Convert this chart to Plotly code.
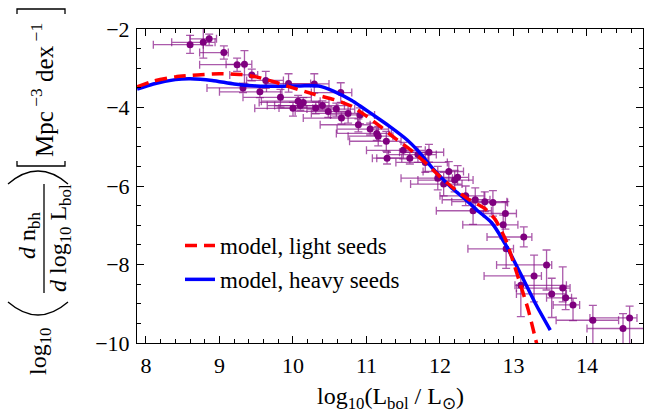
import plotly.graph_objects as go

# ---------------- data ----------------
# observed bolometric luminosity function (log10 L/Lsun, log10 phi)
lum_x = [8.60, 8.78, 8.86, 9.06, 9.24, 9.34, 9.44, 9.32, 9.63, 9.94,
         10.29, 9.83, 10.07, 10.14, 10.00, 10.10, 10.31, 10.48, 10.59, 10.66,
         10.65, 10.89, 10.91, 11.14, 11.16, 11.27, 11.28, 11.50, 11.59, 11.85,
         11.80, 11.97, 12.12, 12.20, 12.24, 12.48, 12.45, 12.61, 12.72, 12.89,
         12.86, 13.14, 12.90, 13.45, 13.28, 13.10, 13.67, 13.52, 13.71, 13.81,
         14.08, 14.58, 14.49, 9.55, 10.40, 10.75, 11.05, 11.70, 12.05, 12.35]
phi_y = [-2.40, -2.34, -2.25, -2.60, -2.91, -2.90, -3.17, -3.50, -3.31, -3.39,
         -3.40, -3.74, -3.84, -3.87, -4.02, -3.95, -4.01, -4.10, -4.04, -4.27,
         -3.62, -4.44, -4.19, -4.66, -4.73, -4.86, -5.29, -5.09, -5.29, -5.14,
         -5.40, -5.80, -5.63, -5.85, -5.78, -6.35, -6.63, -6.40, -6.42, -6.70,
         -6.99, -7.30, -7.60, -8.01, -8.29, -8.53, -8.60, -8.75, -8.85, -9.03,
         -9.42, -9.36, -9.63, -3.60, -3.95, -4.15, -4.55, -5.20, -5.95, -6.25]
lum_err_lo = [0.50, 0.43, 0.26, 0.33, 0.51, 0.25, 0.30, 0.49, 0.26, 0.32,
              0.35, 0.51, 0.50, 0.60, 0.52, 0.45, 0.50, 0.45, 0.40, 0.52,
              0.40, 0.52, 0.40, 0.55, 0.41, 0.50, 0.20, 0.50, 0.45, 0.40,
              0.40, 0.50, 0.35, 0.50, 0.30, 0.45, 0.50, 0.45, 0.30, 0.30,
              0.55, 0.50, 0.52, 0.68, 0.68, 0.08, 0.63, 0.48, 0.26, 0.27,
              0.50, 0.54, 0.49, 0.55, 0.65, 0.50, 0.45, 0.40, 0.45, 0.35]
lum_err_hi = [0.18, 0.16, 0.10, 0.06, 0.10, 0.10, 0.08, 0.32, 0.24, 0.30,
              0.20, 0.42, 0.30, 0.35, 0.27, 0.25, 0.30, 0.30, 0.25, 0.22,
              0.15, 0.16, 0.20, 0.20, 0.20, 0.20, 0.20, 0.30, 0.25, 0.20,
              0.30, 0.20, 0.20, 0.25, 0.15, 0.20, 0.25, 0.30, 0.20, 0.15,
              0.20, 0.11, 0.10, 0.07, 0.10, 0.62, 0.10, 0.20, 0.08, 0.09,
              0.35, 0.10, 0.30, 0.30, 0.30, 0.20, 0.25, 0.25, 0.25, 0.25]
phi_err_up = [0.24, 0.36, 0.12, 0.17, 0.17, 0.35, 0.15, 0.12, 0.23, 0.25,
              0.26, 0.20, 0.15, 0.12, 0.15, 0.10, 0.15, 0.12, 0.15, 0.15,
              0.25, 0.15, 0.18, 0.15, 0.25, 0.25, 0.15, 0.20, 0.15, 0.20,
              0.25, 0.30, 0.25, 0.25, 0.30, 0.30, 0.20, 0.25, 0.30, 0.30,
              0.25, 0.26, 0.23, 0.38, 0.53, 0.21, 0.54, 0.40, 0.30, 0.17,
              0.38, 0.30, 0.38, 0.15, 0.12, 0.20, 0.15, 0.20, 0.30, 0.25]
phi_err_dn = [0.22, 0.40, 0.17, 0.17, 0.17, 0.50, 0.15, 0.12, 0.20, 0.22,
              0.23, 0.25, 0.15, 0.12, 0.20, 0.12, 0.15, 0.15, 0.20, 0.15,
              0.25, 0.18, 0.22, 0.18, 0.25, 0.25, 0.15, 0.22, 0.15, 0.25,
              0.25, 0.30, 0.25, 0.30, 0.20, 0.30, 0.35, 0.25, 0.35, 0.40,
              0.35, 0.25, 0.50, 0.64, 0.66, 0.80, 0.35, 0.60, 0.30, 0.40,
              0.65, 1.20, 0.80, 0.15, 0.12, 0.25, 0.15, 0.20, 0.30, 0.25]

# model curves
light_x = [7.88, 8.1, 8.4, 8.7, 9.0, 9.3, 9.5, 9.75, 10.0, 10.3, 10.6, 10.8,
           11.0, 11.2, 11.4, 11.6, 11.8, 12.0, 12.2, 12.4, 12.6, 12.75, 12.9,
           13.05, 13.2, 13.3, 13.34]
light_y = [-3.47, -3.33, -3.22, -3.17, -3.14, -3.16, -3.22, -3.35, -3.50, -3.67,
           -3.82, -3.97, -4.22, -4.50, -4.80, -5.08, -5.40, -5.76, -6.08, -6.35,
           -6.56, -6.85, -7.40, -8.25, -9.15, -9.90, -10.2]
heavy_x = [7.88, 8.1, 8.4, 8.6, 8.9, 9.2, 9.5, 9.8, 10.1, 10.35, 10.55, 10.8,
           11.1, 11.3, 11.55, 11.7, 11.9, 12.15, 12.35, 12.5, 12.7, 12.9, 13.1,
           13.3, 13.5]
heavy_y = [-3.53, -3.40, -3.29, -3.27, -3.31, -3.40, -3.45, -3.46, -3.45, -3.45,
           -3.58, -3.82, -4.20, -4.46, -4.82, -5.10, -5.55, -6.03, -6.35, -6.61,
           -6.93, -7.52, -8.25, -9.00, -9.67]

x_ticks = [8, 9, 10, 11, 12, 13, 14]
y_ticks = [-10, -8, -6, -4, -2]

# ---------------- layout helpers ----------------
W, H = 647, 416
L, R, T, B = 137, 643, 29, 343
PW, PH = R - L, B - T


def px(x):
    return (x - L) / PW


def py(y):
    return (B - y) / PH


FONT = "Liberation Serif"
purple = "#7f007f"

fig = go.Figure()

fig.add_trace(go.Scatter(
    x=lum_x, y=phi_y, mode="markers", showlegend=False,
    marker=dict(color=purple, size=7),
    error_x=dict(type="data", symmetric=False, array=lum_err_hi,
                 arrayminus=lum_err_lo, color="rgba(135,20,135,0.7)",
                 thickness=1.3, width=4),
    error_y=dict(type="data", symmetric=False, array=phi_err_up,
                 arrayminus=phi_err_dn, color="rgba(135,20,135,0.7)",
                 thickness=1.3, width=4),
))

fig.add_trace(go.Scatter(
    x=heavy_x, y=heavy_y, mode="lines", name="model, heavy seeds",
    line=dict(color="#0000ff", width=3.5, shape="spline", smoothing=0.6),
    legendgroup="b", legendrank=2,
))
fig.add_trace(go.Scatter(
    x=light_x, y=light_y, mode="lines", name="model, light seeds",
    line=dict(color="#ff0000", width=3.5, dash="12px,7px", shape="spline",
              smoothing=0.6),
    legendgroup="a", legendrank=1,
))

axis_common = dict(
    showgrid=False, zeroline=False, showline=True, linecolor="black",
    linewidth=1, mirror="allticks", ticks="inside", ticklen=7, tickwidth=1,
    tickcolor="black", tickfont=dict(family=FONT, size=22, color="black"),
)

fig.update_xaxes(range=[7.878, 14.762], tickvals=x_ticks,
                 ticklabelstandoff=3,
                 minor=dict(dtick=0.2, ticks="inside", ticklen=4,
                            tickcolor="black", showgrid=False),
                 **axis_common)
fig.update_yaxes(range=[-10, -2], tickvals=y_ticks,
                 ticklabelstandoff=2,
                 minor=dict(dtick=0.5, ticks="inside", ticklen=4,
                            tickcolor="black", showgrid=False),
                 **axis_common)

ann = []
# x title
ann.append(dict(x=px(390), y=py(398), xref="paper", yref="paper",
                text="log<sub>10</sub>(L<sub>bol</sub> / L<sub>⊙</sub>)",
                showarrow=False, font=dict(family=FONT, size=24, color="black"),
                xanchor="center", yanchor="middle"))
# y title parts (rotated)
yfont = dict(family=FONT, size=24, color="black")
ann.append(dict(x=px(40), y=py(352), xref="paper", yref="paper",
                text="log<sub>10</sub>", textangle=-90, showarrow=False,
                font=yfont, xanchor="center", yanchor="middle"))
ann.append(dict(x=px(29), y=py(236), xref="paper", yref="paper",
                text="<i>d</i> n<sub>bh</sub>", textangle=-90, showarrow=False,
                font=yfont, xanchor="center", yanchor="middle"))
ann.append(dict(x=px(60), y=py(238), xref="paper", yref="paper",
                text="<i>d</i> log<sub>10</sub> L<sub>bol</sub>", textangle=-90,
                showarrow=False, font=yfont, xanchor="center", yanchor="middle"))
ann.append(dict(x=px(42), y=py(90), xref="paper", yref="paper",
                text="Mpc<sup> −3</sup> dex<sup> −1</sup>", textangle=-90,
                showarrow=False, font=dict(family=FONT, size=25, color="black"),
                xanchor="center", yanchor="middle"))

shapes = []
line_k = dict(color="black", width=1.3)
# fraction bar
shapes.append(dict(type="line", xref="paper", yref="paper",
                   x0=px(44), x1=px(44), y0=py(184), y1=py(293), line=line_k))


def qpath(p0, c, p1):
    return "M {},{} Q {},{} {},{}".format(px(p0[0]), py(p0[1]), px(c[0]),
                                          py(c[1]), px(p1[0]), py(p1[1]))


# big parentheses (rotated)
shapes.append(dict(type="path", xref="paper", yref="paper",
                   path=qpath((8, 302), (38, 328), (68, 302)), line=line_k))
shapes.append(dict(type="path", xref="paper", yref="paper",
                   path=qpath((8, 184), (38, 158), (68, 184)), line=line_k))
# big brackets (rotated)
for (yb, d) in [(166, -5), (9, 5)]:
    p = "M {},{} L {},{} L {},{} L {},{}".format(
        px(17), py(yb + d), px(17), py(yb), px(65), py(yb), px(65), py(yb + d))
    shapes.append(dict(type="path", xref="paper", yref="paper", path=p,
                       line=line_k))

fig.update_layout(
    width=W, height=H,
    margin=dict(l=L, r=W - R, t=T, b=H - B),
    paper_bgcolor="white", plot_bgcolor="white",
    annotations=ann, shapes=shapes,
    legend=dict(x=px(180), y=py(224), xanchor="left", yanchor="top",
                bgcolor="rgba(0,0,0,0)", font=dict(family=FONT, size=23,
                                                   color="black"),
                traceorder="grouped", tracegroupgap=1),
    font=dict(family=FONT, color="black"),
)

fig.write_html("out.html", config={"displayModeBar": False},
               post_script="document.body.style.margin='0';"
                           "document.body.style.padding='0';")
